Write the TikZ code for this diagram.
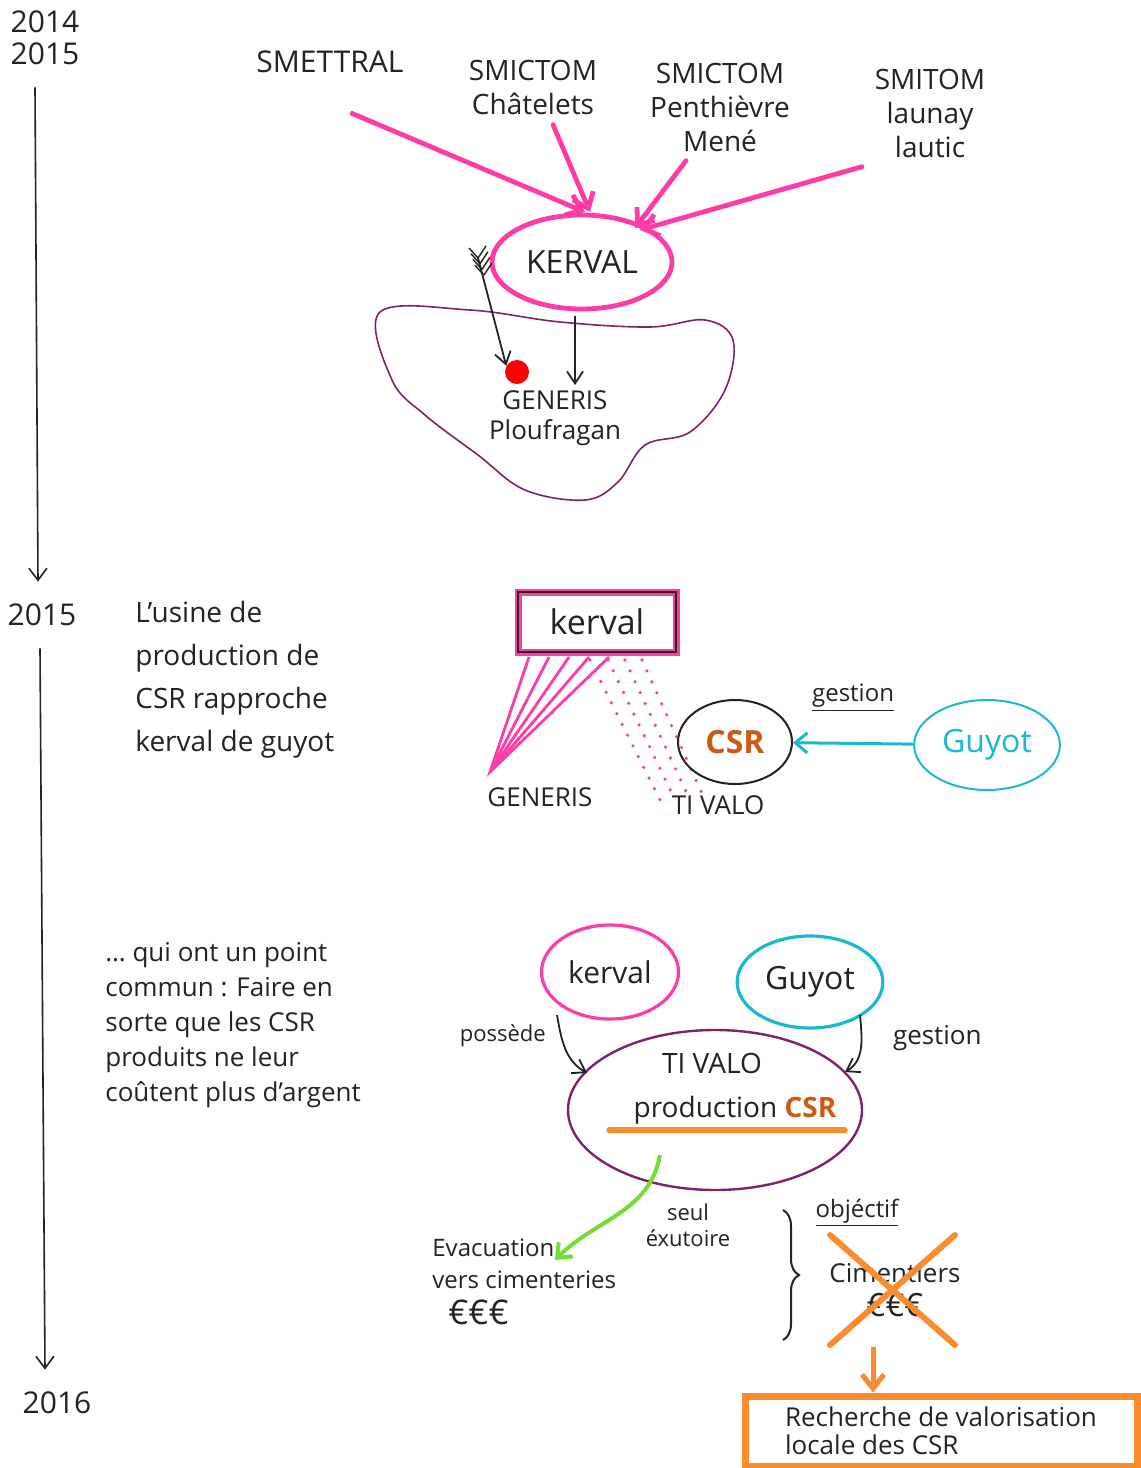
\documentclass[tikz,border=0pt]{standalone}
\usepackage{fontspec}
\setmainfont{Open Sans}
\usepackage{tikz}
\usepackage{xcolor}
\usetikzlibrary{shapes.geometric, arrows.meta, positioning, calc,
                decorations.pathreplacing}
\definecolor{rose}{RGB}{255, 60, 165}
\definecolor{plum}{RGB}{125, 35, 105}
\definecolor{turquoise}{RGB}{25, 185, 210}
\definecolor{tangerine}{RGB}{250, 140, 45}
\definecolor{lime}{RGB}{115, 220, 55}
\definecolor{ink}{RGB}{35, 35, 35}
\definecolor{rust}{RGB}{205, 90, 20}
\newcommand{\penfont}[2]{\fontsize{#1}{#2}\selectfont}

\begin{document}
\begin{tikzpicture}[x=0.5pt, y=-0.5pt,
  tag/.style={text=ink, align=center, inner sep=1pt},
  note/.style={text=ink, align=left, inner sep=0pt},
  pinkarrow/.style={rose, line width=2.4pt, line cap=round,
                    -{Straight Barb[length=7pt, width=11pt]}},
  inkarrow/.style={ink, line width=0.9pt,
                   -{Straight Barb[length=6pt, width=8pt]}},
  timeline/.style={ink, line width=0.8pt,
                   -{Straight Barb[length=6pt, width=9pt]}}]

\useasboundingbox[fill=white] (0,0) rectangle (1141,1468);

% Timeline
\node[note, font=\penfont{15}{16}] (y1415) at (45,38) {2014\\2015};
\node[note, font=\penfont{15}{16}] (y15) at (42,615) {2015};
\node[note, font=\penfont{15}{16}] (y16) at (57,1403) {2016};
\draw[timeline] ($(y1415.south)+(-10,22)$) -- ($(y15.north)+(-4,-22)$);
\draw[timeline] ($(y15.south)+(-2,22)$) -- ($(y16.north)+(-12,-22)$);

% 2014-2015 : syndicats vers Kerval
\node[tag, font=\penfont{15}{17}] (smettral) at (330,62) {SMETTRAL};
\node[tag, font=\penfont{14}{17}] (chatelets) at (533,87) {SMICTOM\\Châtelets};
\node[tag, font=\penfont{14}{17}] (penthievre) at (720,107) {SMICTOM\\Penthièvre\\Mené};
\node[tag, font=\penfont{14}{17}] (launay) at (930,113) {SMITOM\\launay\\lautic};

\node[ellipse, draw=rose, line width=2.4pt, minimum width=90pt,
      minimum height=47pt, font=\penfont{16}{18}, text=ink] (kerval) at (582,262) {KERVAL};

\draw[pinkarrow] ($(smettral.south)+(22,38)$) -- ($(kerval)+(3,-50)$);
\draw[pinkarrow] ($(chatelets.south)+(20,8)$) -- ($(kerval)+(8,-50)$);
\draw[pinkarrow] ($(penthievre.south)+(-34,7)$) -- ($(kerval)+(53,-34)$);
\draw[pinkarrow] ($(launay.south)+(-68,7)$) -- ($(kerval)+(58,-32)$);

% Site de Ploufragan
\draw[plum, line width=0.8pt] plot[smooth cycle, tension=0.6] coordinates {
  (380,312) (470,310) (560,322) (650,327) (705,320) (733,340) (725,390)
  (690,432) (645,445) (618,482) (585,500) (525,490) (478,455) (425,415) (392,380)};

\node[circle, fill=red, inner sep=0pt, minimum size=12pt] (bullseye) at (517,372) {};
\coordinate (quiver) at (478,258);
\draw[inkarrow] (quiver) -- (bullseye.150);
\foreach \f in {0,1,2,3} {
  \draw[ink, line width=0.7pt] ($(quiver)!{\f*0.05}!(bullseye)$) -- ++(-9,-10);
  \draw[ink, line width=0.7pt] ($(quiver)!{\f*0.05}!(bullseye)$) -- ++(8,-12);
}
\coordinate (dropsite) at (575,385);
\draw[inkarrow] ($(kerval.south)+(-7,5)$) -- (dropsite);

\node[tag, font=\penfont{13}{15}] (ploufragan) at (555,418) {GENERIS\\Ploufragan};

% 2015 : usine CSR
\node[note, font=\penfont{14}{21.5}, anchor=west] (rapproche) at (135,680)
     {L'usine de\\production de\\CSR rapproche\\kerval de guyot};

\node[rectangle, draw=ink, line width=1pt, preaction={draw=rose, line width=3.5pt},
      minimum width=79pt, minimum height=30pt, font=\penfont{17}{19}, text=ink]
      (kervalbox) at (597,622) {kerval};

\coordinate (hatchL) at ($(kervalbox.south west)+(12,4)$);
\coordinate (hatchR) at ($(kervalbox.south west)+(92,4)$);
\coordinate (genapex) at (490,772);
\draw[rose, line width=1.4pt] (hatchL) -- (genapex) -- (hatchR);
\foreach \t in {0.25,0.5,0.75} {
  \draw[rose, line width=1.4pt] ($(hatchL)!\t!(hatchR)$) -- (genapex);
}
\foreach \ux/\lx in {590/660, 608/675, 625/690, 642/705} {
  \draw[rose, line width=1.8pt, line cap=round, dash pattern=on 0pt off 6pt]
    (\ux,660) -- (\lx,800);
}

\node[ellipse, draw=ink, line width=1pt, minimum width=57pt, minimum height=42pt,
      font=\bfseries\penfont{16}{18}, text=rust] (csr) at (735,742) {CSR};
\node[ellipse, draw=turquoise, line width=1pt, minimum width=70pt, minimum height=45pt,
      font=\penfont{16}{18}, text=turquoise] (guyotmid) at (987,745) {Guyot};
\draw[turquoise, line width=1.5pt, -{Straight Barb[length=6pt, width=10pt]}]
  (guyotmid) -- (csr) node[midway, above=12pt, text=ink, font=\penfont{12}{14}]
  (gestionmid) {\underline{gestion}};

\node[tag, font=\penfont{13}{15}] (generis) at (540,797) {GENERIS};
\node[tag, font=\penfont{13}{15}] (tivalomid) at (718,805) {TI VALO};

% 2015-2016 : Ti Valo
\node[note, font=\penfont{13}{17.5}, anchor=west] (pointcommun) at (105,1025)
     {\dots\ qui ont un point\\commun : Faire en\\sorte que les CSR\\produits ne leur\\coûtent plus d'argent};

\node[ellipse, draw=rose, line width=1.6pt, minimum width=67pt, minimum height=47pt,
      font=\penfont{15}{17}, text=ink] (kervallow) at (610,972) {kerval};
\node[ellipse, draw=turquoise, line width=1.6pt, minimum width=62pt, minimum height=46pt,
      font=\penfont{16}{18}, text=ink] (guyotlow) at (810,982) {Guyot};
\node[ellipse, draw=plum, line width=1.2pt, minimum width=147pt,
      minimum height=80pt] (tivalo) at (715,1110) {};
\node[tag, font=\penfont{14}{16}] (tivalotitle) at (712,1063) {TI VALO};
\node[tag, font=\penfont{14}{16}] (production) at (735,1110)
     {production \textcolor{rust}{\bfseries CSR}};
\draw[tangerine, line width=3pt, line cap=round]
  ($(production.south west)+(-22,4)$) -- ($(production.south east)+(6,4)$);

\draw[inkarrow] ($(kervallow)+(-53,43)$) to[out=-80, in=150]
  node[pos=0.3, left=4pt, text=ink, font=\penfont{11}{13}] (possede) {possède}
  ($(tivalo)+(-128,-37)$);
\draw[inkarrow] ($(guyotlow)+(50,33)$) to[out=-85, in=30]
  node[pos=0.35, right=12pt, text=ink, font=\penfont{13}{15}] (gestionlow) {gestion}
  ($(tivalo)+(130,-38)$);

\node[note, font=\penfont{12}{16}, anchor=north west] (evacuation) at (432,1238)
     {Evacuation\\vers cimenteries\\[2pt]\hspace*{8pt}{\penfont{17}{18}€€€}};
\coordinate (evacentry) at (555,1260);
\draw[lime, line width=2pt, -{Straight Barb[length=6pt, width=10pt]}]
  ($(tivalo)+(-55,45)$) to[out=-100, in=45] (evacentry);
\node[tag, font=\penfont{11}{13}] (exutoire) at (688,1225) {seul\\éxutoire};

% Objectif
\draw[ink, line width=1pt, decorate, decoration={brace, amplitude=8pt}]
  (783,1210) -- (783,1340);
\node[tag, font=\penfont{12}{14}] (objectif) at (857,1213) {\underline{objéctif}};
\node[tag, font=\penfont{13}{17}] (cimentiers) at (895,1290)
     {Cimentiers\\{\penfont{16}{17}€€€}};
\draw[tangerine, line width=3pt, line cap=round]
  ($(cimentiers)+(-65,-55)$) -- ($(cimentiers)+(60,55)$);
\draw[tangerine, line width=3pt, line cap=round]
  ($(cimentiers)+(60,-55)$) -- ($(cimentiers)+(-65,55)$);

\node[rectangle, draw=tangerine, line width=3.5pt, minimum width=196pt,
      minimum height=35pt, align=left, text=ink, font=\penfont{13}{14}]
      (recherche) at (941,1431) {Recherche de valorisation\\locale des CSR};
\coordinate (xfoot) at ($(cimentiers)+(-22,57)$);
\draw[tangerine, line width=2.5pt, -{Straight Barb[length=7pt, width=11pt]}]
  (xfoot) -- (xfoot |- recherche.north);

\end{tikzpicture}
\end{document}
